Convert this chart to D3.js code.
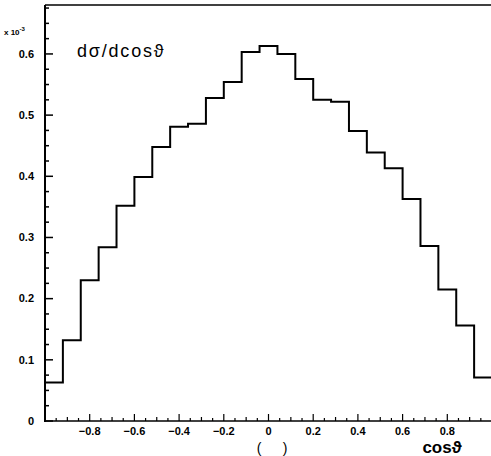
<!DOCTYPE html>
<html>
<head>
<meta charset="utf-8">
<script src="https://cdn.jsdelivr.net/npm/d3@7"></script>
<style>
  html, body { margin: 0; padding: 0; background: #fff; }
  svg { display: block; }
</style>
</head>
<body>
<script>
// ---- data ----
const binLow = [-1.00, -0.92, -0.84, -0.76, -0.68, -0.60, -0.52, -0.44, -0.36, -0.28,
                -0.20, -0.12, -0.04, 0.04, 0.12, 0.20, 0.28, 0.36, 0.44, 0.52,
                0.60, 0.68, 0.76, 0.84, 0.92];
const binValues = [0.063, 0.132, 0.230, 0.284, 0.352, 0.399, 0.448, 0.481, 0.486, 0.528,
                   0.554, 0.603, 0.613, 0.600, 0.559, 0.525, 0.522, 0.474, 0.439, 0.413,
                   0.363, 0.286, 0.215, 0.156, 0.071];
const xTickValues = [-0.8, -0.6, -0.4, -0.2, 0, 0.2, 0.4, 0.6, 0.8];
const xTickLabels = ["-0.8", "-0.6", "-0.4", "-0.2", "0", "0.2", "0.4", "0.6", "0.8"];
const yTickValues = [0, 0.1, 0.2, 0.3, 0.4, 0.5, 0.6];
const yTickLabels = ["0", "0.1", "0.2", "0.3", "0.4", "0.5", "0.6"];
const binWidth = 0.08;

const W = 491, H = 456;
const svg = d3.select("body").append("svg").attr("width", W).attr("height", H);

const x = d3.scaleLinear().domain([-1, 1]).range([45, 492]);
const y = d3.scaleLinear().domain([0, 0.68]).range([421, 5]);

const font = "'Liberation Sans', Arial, sans-serif";

// frame: left axis, top line
svg.append("line").attr("x1", 45).attr("x2", 45).attr("y1", y(0.68)).attr("y2", y(0) + 1)
  .attr("stroke", "#000").attr("stroke-width", 2);
svg.append("line").attr("x1", 45).attr("x2", W).attr("y1", y(0.68)).attr("y2", y(0.68))
  .attr("stroke", "#000").attr("stroke-width", 1.5);
svg.append("line").attr("x1", 44).attr("x2", W).attr("y1", y(0)).attr("y2", y(0))
  .attr("stroke", "#000").attr("stroke-width", 1.5);

// y ticks (inward)
const yMinor = d3.range(0, 0.68, 0.025);
svg.append("g").selectAll("line").data(yMinor).join("line")
  .attr("x1", 45).attr("x2", d => (Math.abs(d * 10 - Math.round(d * 10)) < 1e-6) ? 53 : 49)
  .attr("y1", d => y(d)).attr("y2", d => y(d))
  .attr("stroke", "#000").attr("stroke-width", 1.5);
svg.append("g").selectAll("text").data(yTickValues).join("text")
  .attr("x", 34).attr("y", d => y(d)).attr("dy", "0.35em")
  .attr("text-anchor", "end")
  .attr("font-family", font).attr("font-weight", "bold").attr("font-size", 11)
  .text((d, i) => yTickLabels[i]);

// x ticks (inward, pointing up)
const xMinor = d3.range(-0.95, 1.0, 0.05);
svg.append("g").selectAll("line").data(xMinor).join("line")
  .attr("x1", d => x(d)).attr("x2", d => x(d))
  .attr("y1", y(0))
  .attr("y2", d => {
    const r = d / 0.2;
    if (Math.abs(r - Math.round(r)) < 1e-6) return y(0) - 7;
    const r2 = d / 0.1;
    if (Math.abs(r2 - Math.round(r2)) < 1e-6) return y(0) - 4;
    return y(0) - 3;
  })
  .attr("stroke", "#000").attr("stroke-width", 1.2);
svg.append("g").selectAll("text").data(xTickValues).join("text")
  .attr("x", d => x(d)).attr("y", 435)
  .attr("text-anchor", "middle")
  .attr("font-family", font).attr("font-weight", "bold").attr("font-size", 11)
  .text((d, i) => xTickLabels[i].replace("-", "\u2212"));

// histogram (step line)
const pts = binLow.map((b, i) => [b, binValues[i]]);
pts.push([binLow[binLow.length - 1] + binWidth, binValues[binValues.length - 1]]);
const line = d3.line().x(d => x(d[0])).y(d => y(d[1])).curve(d3.curveStepAfter);
svg.append("path").attr("d", line(pts))
  .attr("fill", "none").attr("stroke", "#000").attr("stroke-width", 2);

// labels
const ex = svg.append("text").attr("x", 4).attr("y", 35)
  .attr("font-family", font).attr("font-size", 8).attr("font-weight", "bold");
ex.append("tspan").text("x 10");
ex.append("tspan").attr("dy", -4).attr("font-size", 6).text("-3");

svg.append("text").attr("x", 77).attr("y", 57)
  .attr("font-family", font).attr("font-size", 18).attr("letter-spacing", 1.8)
  .text("d\u03C3/dcos\u03D1");

svg.append("text").attr("x", 442).attr("y", 453).attr("text-anchor", "middle")
  .attr("font-family", font).attr("font-weight", "bold").attr("font-size", 17)
  .text("cos\u03D1");

svg.append("text").attr("x", 259).attr("y", 453).attr("text-anchor", "middle")
  .attr("font-family", font).attr("font-size", 14).text("(");
svg.append("text").attr("x", 285).attr("y", 453).attr("text-anchor", "middle")
  .attr("font-family", font).attr("font-size", 14).text(")");
</script>
</body>
</html>
